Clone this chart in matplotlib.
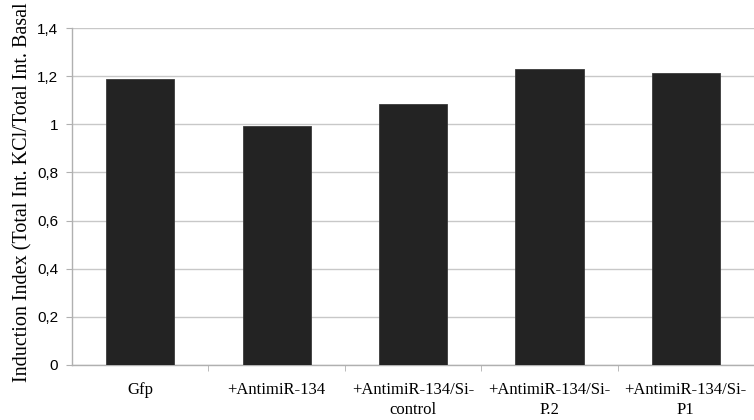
import numpy as np
import matplotlib
matplotlib.use('Agg')
import matplotlib.pyplot as plt
from matplotlib.ticker import FuncFormatter

categories = ['Gfp', '+AntimiR-134', '+AntimiR-134/Si-\ncontrol',
              '+AntimiR-134/Si-\nP.2', '+AntimiR-134/Si-\nP1']
values = [1.187, 0.993, 1.085, 1.230, 1.212]
yticks = [0, 0.2, 0.4, 0.6, 0.8, 1.0, 1.2, 1.4]

fig = plt.figure(figsize=(7.54, 4.20), dpi=100)
ax = fig.add_axes([72 / 754, 55 / 420, 1 - 72 / 754, 337 / 420])

x = np.arange(len(categories))
ax.bar(x, values, width=0.5, color='#232323', edgecolor='#3a3a3a', linewidth=0.6, zorder=3)

ax.set_ylim(0, 1.4)
ax.set_xlim(-0.5, -0.5 + (754 - 72) / 138)
ax.set_yticks(yticks)
ax.yaxis.set_major_formatter(FuncFormatter(lambda v, p: ('%g' % v).replace('.', ',')))
ax.grid(axis='y', color='#c8c8c8', linewidth=1.0, zorder=0)
ax.set_axisbelow(True)

for s in ['top', 'right']:
    ax.spines[s].set_visible(False)
for s in ['left', 'bottom']:
    ax.spines[s].set_color('#b0b0b0')
    ax.spines[s].set_linewidth(1.0)

ax.set_xticks(x)
ax.set_xticklabels(categories, family='Liberation Serif', fontsize=12, linespacing=1.4)
ax.tick_params(axis='x', length=0, pad=12)
ax.set_xticks(np.arange(len(categories)) + 0.5, minor=True)
ax.tick_params(axis='x', which='minor', length=4, color='#b0b0b0', direction='out')
ax.tick_params(axis='y', length=4, color='#b0b0b0', pad=6, labelsize=11)
for lab in ax.get_yticklabels():
    lab.set_family('Liberation Sans')

# label is cut at the top edge in the original figure as well
fig.text(27 / 754, 38 / 420, 'Induction Index (Total Int. KCl/Total Int. Basal',
         rotation=90, rotation_mode='anchor', ha='left', va='baseline',
         family='Liberation Serif', fontsize=14.5)

plt.savefig('out.png', dpi=100)
